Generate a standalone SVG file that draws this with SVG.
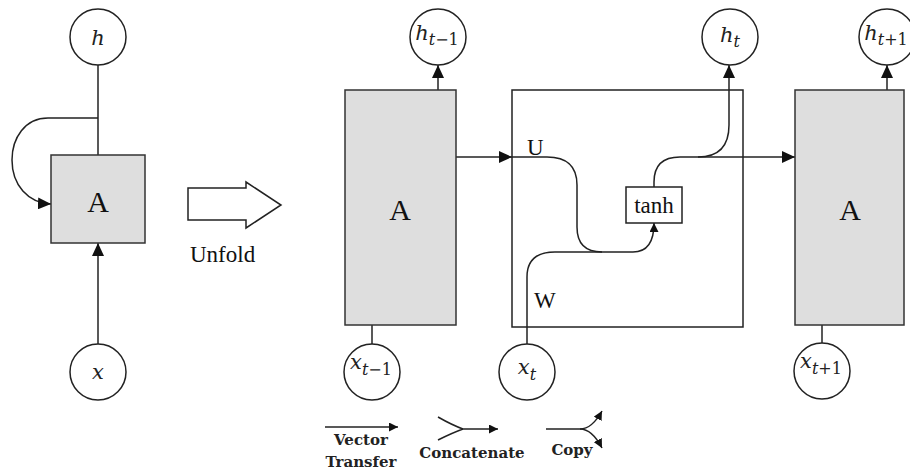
<svg xmlns="http://www.w3.org/2000/svg" width="910" height="472" viewBox="0 0 910 472">
<style>
.ln{fill:none;stroke:#222;stroke-width:1.5}
.cir{fill:#fff;stroke:#222;stroke-width:1.5}
.box{fill:#dedede;stroke:#333;stroke-width:1.5}
.frame{fill:none;stroke:#222;stroke-width:1.5}
.big{font-family:"Liberation Serif",serif;font-size:30px;fill:#111;text-anchor:middle}
.lab{font-family:"Liberation Serif",serif;font-size:23px;fill:#111}
.m{font-family:"DejaVu Serif",serif;font-style:italic;font-size:21px;fill:#222;text-anchor:middle}
.sub{font-size:16px}
.leg{font-family:"DejaVu Serif",serif;font-weight:bold;font-size:15px;fill:#222;text-anchor:middle}
</style>
<defs>
<marker id="ah" markerUnits="userSpaceOnUse" markerWidth="14" markerHeight="12" refX="13" refY="6" orient="auto">
<path d="M0,0 L13,6 L0,12 Z" fill="#111"/>
</marker>
<marker id="as" markerUnits="userSpaceOnUse" markerWidth="10" markerHeight="9" refX="9" refY="4.5" orient="auto">
<path d="M0,0 L9,4.5 L0,9 Z" fill="#111"/>
</marker>
</defs>

<g id="connectors">
<line class="ln" x1="98" y1="65" x2="98" y2="155"/>
<path class="ln" d="M98,118 H48 C25,118 12,138 12,160 C12,185 28,203 51,204" marker-end="url(#ah)"/>
<line class="ln" x1="98" y1="344" x2="98" y2="243" marker-end="url(#ah)"/>
<line class="ln" x1="438" y1="90" x2="438" y2="65" marker-end="url(#ah)"/>
<line class="ln" x1="372" y1="325" x2="372" y2="344"/>
<line class="ln" x1="456" y1="157" x2="512" y2="157" marker-end="url(#ah)"/>
<path class="ln" d="M512,157 H547 Q577,157 577,185 V227 Q577,252 602,252 H633 C648,252 654,240 654,223" marker-end="url(#as)"/>
<path class="ln" d="M527,344 V277 Q527,252 555,252 H602"/>
<path class="ln" d="M654,187 V182 Q654,157 680,157 H698 Q729,157 729,125 V65" marker-end="url(#ah)"/>
<line class="ln" x1="698" y1="157" x2="795" y2="157" marker-end="url(#ah)"/>
<line class="ln" x1="887" y1="90" x2="887" y2="65" marker-end="url(#ah)"/>
<line class="ln" x1="822" y1="325" x2="822" y2="344"/>
</g>

<g id="h">
<circle class="cir" cx="98" cy="37" r="28"/>
<text class="m" x="98" y="45">h</text>
</g>
<g id="A">
<rect class="box" x="51" y="155" width="94" height="88"/>
<text class="big" x="98" y="212">A</text>
</g>
<g id="x">
<circle class="cir" cx="98" cy="372" r="28"/>
<text class="m" x="98" y="379">x</text>
</g>
<g id="unfold">
<polygon points="188,188 246,188 246,182 281,205 246,228 246,220 188,220" fill="#fff" stroke="#222" stroke-width="1.5"/>
<text class="lab" x="190" y="262">Unfold</text>
</g>

<g id="A_prev">
<rect class="box" x="345" y="90" width="111" height="235"/>
<text class="big" x="400" y="220">A</text>
</g>
<g id="h_prev">
<circle class="cir" cx="438" cy="37" r="28"/>
<text class="m" x="437" y="40">h<tspan class="sub" dy="5">t</tspan><tspan class="sub" font-style="normal">−1</tspan></text>
</g>
<g id="x_prev">
<circle class="cir" cx="372" cy="372" r="28"/>
<text class="m" x="371" y="369">x<tspan class="sub" dy="6">t</tspan><tspan class="sub" font-style="normal">−1</tspan></text>
</g>

<g id="cell">
<rect class="frame" x="512" y="90" width="231" height="237"/>
<text class="lab" x="527" y="155">U</text>
<text class="lab" x="534" y="308">W</text>
</g>
<g id="tanh">
<rect x="626" y="187" width="56" height="36" fill="#fff" stroke="#222" stroke-width="1.5"/>
<text class="lab" x="654" y="213" text-anchor="middle">tanh</text>
</g>
<g id="h_t">
<circle class="cir" cx="730" cy="37" r="28"/>
<text class="m" x="730" y="42">h<tspan class="sub" dy="5">t</tspan></text>
</g>
<g id="x_t">
<circle class="cir" cx="527" cy="372" r="28"/>
<text class="m" x="527" y="374">x<tspan class="sub" dy="6">t</tspan></text>
</g>

<g id="A_next">
<rect class="box" x="795" y="90" width="109" height="235"/>
<text class="big" x="850" y="220">A</text>
</g>
<g id="h_next">
<circle class="cir" cx="887" cy="37" r="28"/>
<text class="m" x="886" y="40">h<tspan class="sub" dy="5">t</tspan><tspan class="sub" font-style="normal">+1</tspan></text>
</g>
<g id="x_next">
<circle class="cir" cx="822" cy="371" r="28"/>
<text class="m" x="821" y="368">x<tspan class="sub" dy="6">t</tspan><tspan class="sub" font-style="normal">+1</tspan></text>
</g>

<g id="legend">
<line class="ln" x1="325" y1="427" x2="398" y2="427" marker-end="url(#as)"/>
<text class="leg" x="361" y="445">Vector</text>
<text class="leg" x="361" y="467">Transfer</text>
<path class="ln" d="M438,417 Q452,425 463,429 M438,440 Q452,433 463,429 H498" marker-end="url(#as)"/>
<text class="leg" x="472" y="458">Concatenate</text>
<path class="ln" d="M546,429 H580 Q592,429 602,411" marker-end="url(#as)"/>
<path class="ln" d="M580,429 Q592,429 602,448" marker-end="url(#as)"/>
<text class="leg" x="572" y="455">Copy</text>
</g>
</svg>
